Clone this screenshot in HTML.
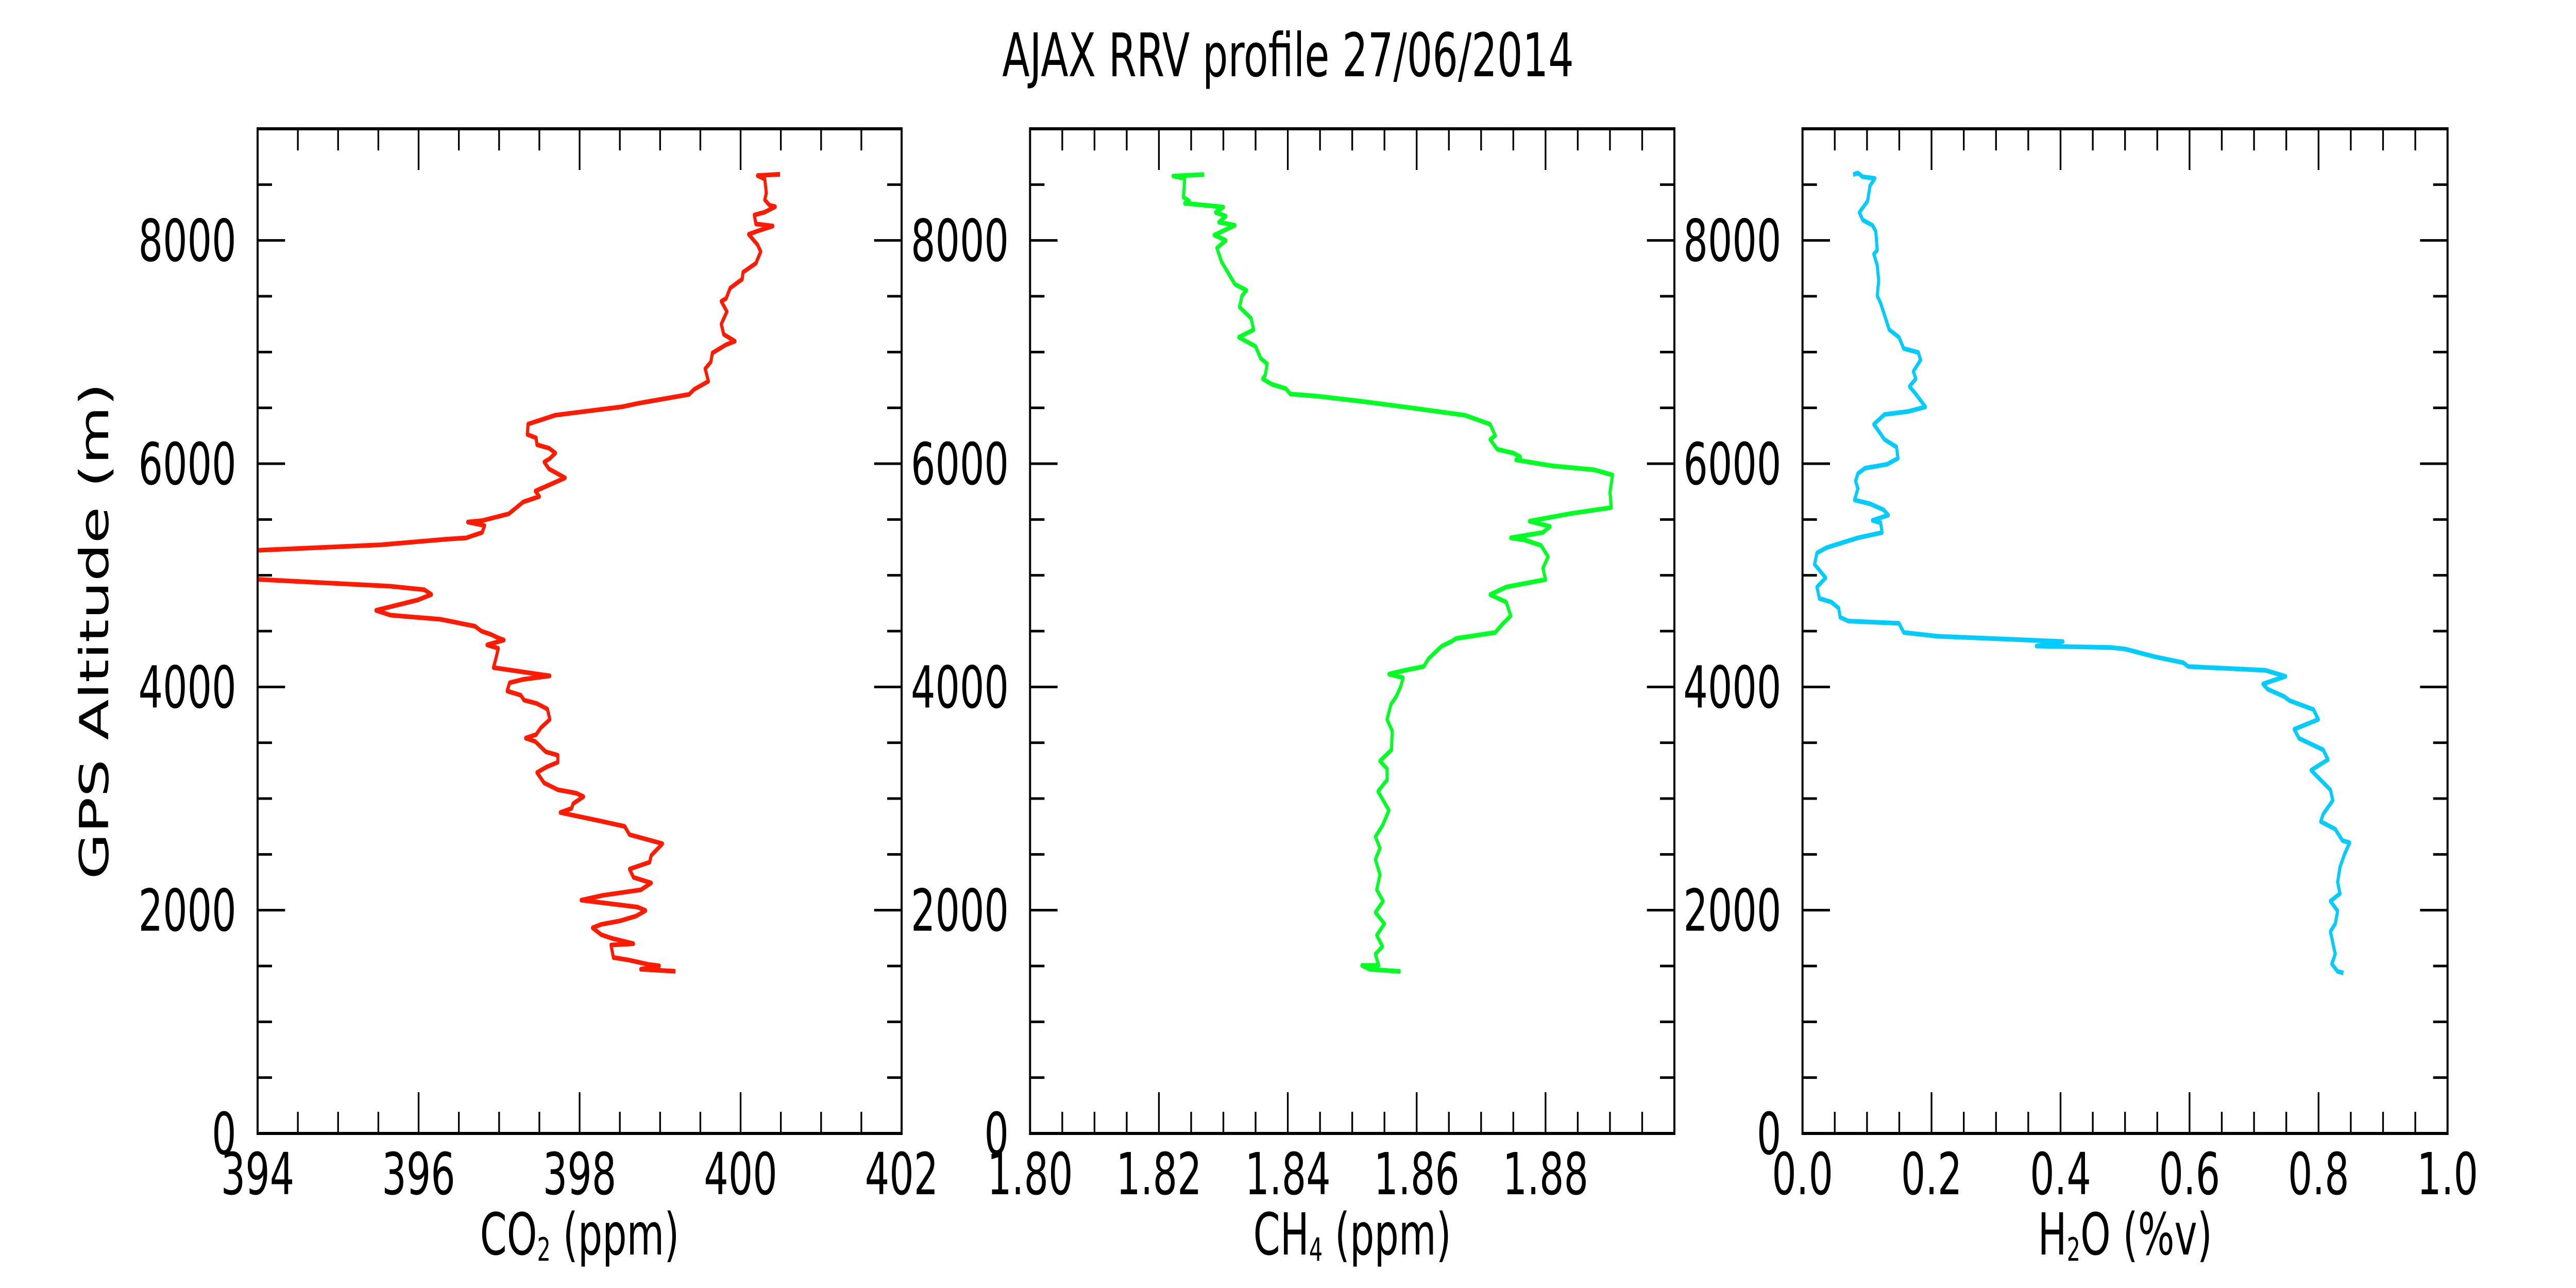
<!DOCTYPE html>
<html><head><meta charset="utf-8"><style>
html,body{margin:0;padding:0;background:#fff;width:100%;height:100%;overflow:hidden;}
svg{display:block;width:100vw;height:100vh;font-family:"DejaVu Sans","Liberation Sans",sans-serif;}
</style></head><body>
<svg id="fig" viewBox="0 0 7500 2500" preserveAspectRatio="none" xmlns="http://www.w3.org/2000/svg">
<rect width="7500" height="2500" fill="#fff"/>
<text x="3750" y="148" font-size="117" text-anchor="middle">AJAX RRV profile 27/06/2014</text>
<text transform="translate(315,1225) rotate(-90)" font-size="116" text-anchor="middle">GPS Altitude (m)</text>
</svg>
<script>
const co2Values=[400.49,400.21,400.30,400.32,400.30,400.36,400.43,400.30,400.17,400.19,400.40,400.22,400.10,400.21,400.25,400.19,400.03,400.02,399.87,399.82,399.76,399.83,399.76,399.79,399.93,399.82,399.65,399.63,399.56,399.60,399.42,399.36,398.73,398.53,397.70,397.36,397.35,397.46,397.47,397.62,397.70,397.63,397.56,397.62,397.82,397.59,397.45,397.50,397.30,397.12,396.79,396.61,396.82,396.79,396.59,396.33,395.53,394.00,393.2,394.00,395.65,396.07,396.16,395.99,395.47,395.65,396.27,396.70,396.78,396.90,396.99,397.06,396.85,396.99,396.96,396.93,397.63,397.30,397.13,397.10,397.27,397.31,397.47,397.60,397.63,397.52,397.46,397.33,397.45,397.58,397.73,397.73,397.59,397.47,397.56,397.73,397.96,398.05,397.92,397.90,397.76,398.25,398.56,398.62,399.03,398.89,398.87,398.62,398.67,398.89,398.76,398.29,398.02,398.72,398.82,398.70,398.50,398.27,398.16,398.27,398.39,398.67,398.39,398.42,398.62,398.85,398.99,398.76,399.19];
const co2Alt=[8593,8581,8550,8426,8364,8315,8302,8253,8228,8148,8129,8086,8055,7962,7900,7795,7715,7653,7573,7480,7455,7363,7251,7159,7097,7066,6992,6911,6850,6738,6664,6621,6541,6510,6435,6355,6262,6231,6170,6139,6095,6046,6015,5953,5873,5799,5755,5706,5657,5551,5490,5477,5446,5384,5335,5323,5273,5224,5100,4964,4902,4871,4828,4779,4686,4643,4606,4544,4500,4470,4439,4420,4377,4346,4253,4173,4099,4068,4037,3963,3926,3882,3851,3802,3709,3635,3573,3542,3511,3419,3388,3326,3283,3233,3140,3079,3048,3017,2955,2912,2875,2800,2751,2677,2596,2491,2430,2368,2294,2244,2182,2133,2090,2028,1997,1947,1904,1873,1842,1780,1750,1700,1688,1576,1552,1515,1502,1471,1453];
const ch4Values=[1.8270,1.8222,1.8240,1.8238,1.8247,1.8240,1.8300,1.8288,1.8304,1.8293,1.8318,1.8286,1.8304,1.8290,1.8297,1.8311,1.8318,1.8336,1.8329,1.8325,1.8343,1.8347,1.8324,1.8350,1.8358,1.8368,1.8365,1.8361,1.8375,1.8397,1.8404,1.8447,1.8518,1.8589,1.8675,1.8714,1.8722,1.8714,1.8725,1.8750,1.8761,1.8754,1.8811,1.8875,1.8904,1.8900,1.8902,1.8839,1.8775,1.8807,1.8796,1.8746,1.8768,1.8793,1.8804,1.8796,1.8800,1.8739,1.8714,1.8739,1.8746,1.8732,1.8722,1.8661,1.8654,1.8639,1.8618,1.8611,1.8582,1.8557,1.8579,1.8575,1.8568,1.8560,1.8554,1.8562,1.8561,1.8543,1.8554,1.8554,1.8540,1.8557,1.8547,1.8536,1.8543,1.8536,1.8543,1.8538,1.8548,1.8536,1.8550,1.8538,1.8547,1.8536,1.8541,1.8515,1.8527,1.8575];
const ch4Alt=[8590,8577,8556,8387,8353,8333,8299,8251,8217,8163,8136,8048,8000,7933,7811,7675,7607,7553,7505,7404,7302,7200,7133,7051,6943,6895,6794,6760,6712,6672,6624,6604,6556,6502,6434,6353,6251,6217,6129,6095,6061,6034,5980,5946,5899,5743,5607,5553,5485,5438,5384,5336,5316,5268,5166,5064,4962,4895,4827,4760,4637,4556,4488,4434,4407,4366,4251,4183,4149,4115,4082,4000,3912,3844,3709,3607,3437,3336,3268,3166,3065,2895,2759,2658,2556,2454,2319,2183,2081,1980,1878,1776,1675,1607,1505,1505,1471,1451];
const h2oValues=[0.0785,0.086,0.0934,0.1121,0.1046,0.1009,0.0882,0.0934,0.1084,0.1136,0.1158,0.1106,0.1158,0.1181,0.1158,0.1211,0.1345,0.1495,0.1570,0.1794,0.1831,0.1719,0.1756,0.1659,0.1756,0.1906,0.1644,0.1271,0.1106,0.1271,0.1457,0.1480,0.1308,0.0972,0.0859,0.0822,0.0859,0.0807,0.1046,0.1256,0.1330,0.1084,0.1211,0.1233,0.0859,0.0374,0.0224,0.0187,0.0359,0.0224,0.0262,0.0448,0.0561,0.0583,0.0710,0.1495,0.1570,0.2093,0.2915,0.4036,0.3625,0.4783,0.5007,0.5456,0.5904,0.5979,0.7175,0.7489,0.7138,0.7212,0.7474,0.7549,0.7922,0.7997,0.7623,0.7698,0.8072,0.8147,0.7885,0.8034,0.8184,0.8221,0.8072,0.8034,0.8259,0.8371,0.8483,0.8408,0.8333,0.8296,0.8333,0.8184,0.8296,0.8259,0.8184,0.8221,0.8259,0.8206,0.8296,0.8386];
const h2oAlt=[8590,8604,8570,8556,8489,8353,8251,8183,8136,8082,7912,7878,7777,7641,7505,7438,7200,7133,7031,6997,6929,6827,6760,6692,6624,6509,6468,6441,6353,6217,6149,6048,5994,5960,5912,5844,5777,5675,5641,5587,5539,5492,5471,5383,5336,5248,5200,5099,4977,4895,4793,4760,4705,4624,4590,4570,4488,4454,4434,4407,4366,4353,4339,4271,4217,4183,4149,4095,4027,3980,3912,3878,3797,3709,3621,3539,3437,3349,3254,3166,3078,2983,2861,2794,2726,2624,2604,2509,2387,2251,2149,2081,1993,1878,1810,1709,1607,1519,1451,1437];
const altTicks=[0,2000,4000,6000,8000];
const altTickLabels=["0","2000","4000","6000","8000"];
const co2Ticks=[394,396,398,400,402];
const co2TickLabels=["394","396","398","400","402"];
const ch4Ticks=[1.80,1.82,1.84,1.86,1.88];
const ch4TickLabels=["1.80","1.82","1.84","1.86","1.88"];
const h2oTicks=[0,0.2,0.4,0.6,0.8,1.0];
const h2oTickLabels=["0.0","0.2","0.4","0.6","0.8","1.0"];

const NS="http://www.w3.org/2000/svg";
const svg=document.getElementById('fig');
const TOP=250,BOT=2200,YMAX=9000;
function yScale(a){return BOT-(a/YMAX)*(BOT-TOP);}
function mk(tag,attrs,parent){const e=document.createElementNS(NS,tag);for(const k in attrs)e.setAttribute(k,attrs[k]);(parent||svg).appendChild(e);return e;}

const panels=[
 {key:'co2',left:750,right:2625,xmin:394,xmax:402,minor:0.5,ticks:co2Ticks,labels:co2TickLabels,vals:co2Values,alt:co2Alt,color:'#ff1a00',lab:['CO','2',' (ppm)']},
 {key:'ch4',left:2999,right:4875,xmin:1.80,xmax:1.90,minor:0.005,ticks:ch4Ticks,labels:ch4TickLabels,vals:ch4Values,alt:ch4Alt,color:'#00ff22',lab:['CH','4',' (ppm)']},
 {key:'h2o',left:5248,right:7126,xmin:0,xmax:1,minor:0.05,ticks:h2oTicks,labels:h2oTickLabels,vals:h2oValues,alt:h2oAlt,color:'#00ccff',lab:['H','2','O (%v)']}
];
panels.forEach(p=>{
 const g=mk('g',{});
 
 
 const xs=v=>p.left+(v-p.xmin)/(p.xmax-p.xmin)*(p.right-p.left);
 const cp=mk('clipPath',{id:'clip-'+p.key},g);
 mk('rect',{x:p.left,y:TOP,width:p.right-p.left,height:BOT-TOP},cp);
 let d='';
 for(let i=0;i<p.vals.length;i++){d+=(i?'L':'M')+xs(p.vals[i]).toFixed(1)+','+yScale(p.alt[i]).toFixed(1);}
 const line=mk('path',{d:d,fill:'none',stroke:p.color,'stroke-width':9,'stroke-linejoin':'round','clip-path':'url(#clip-'+p.key+')'},g);
 
 
 const nMinor=Math.round((p.xmax-p.xmin)/p.minor);
 for(let i=0;i<=nMinor;i++){
  const v=p.xmin+i*p.minor;const major=(i%4===0);const L=major?80:42;const x=xs(v);
  mk('line',{x1:x,x2:x,y1:BOT,y2:BOT-L,stroke:'#000','stroke-width':5},g);
  mk('line',{x1:x,x2:x,y1:TOP,y2:TOP+L,stroke:'#000','stroke-width':5},g);
 }
 for(let a=0;a<=YMAX;a+=500){
  const major=(a%2000===0);const L=major?80:42;const y=yScale(a);
  mk('line',{x1:p.left,x2:p.left+L,y1:y,y2:y,stroke:'#000','stroke-width':5},g);
  mk('line',{x1:p.right,x2:p.right-L,y1:y,y2:y,stroke:'#000','stroke-width':5},g);
 }
 const frame=mk('rect',{x:p.left,y:TOP,width:p.right-p.left,height:BOT-TOP,fill:'none',stroke:'#000','stroke-width':6},g);
 
 
 p.ticks.forEach((v,i)=>{
  const t=mk('text',{x:xs(v),y:2318,'font-size':112,'text-anchor':'middle'},g);
  
  
  t.textContent=p.labels[i];
 });
 altTicks.forEach((a,i)=>{
  const t=mk('text',{x:p.left-62,y:yScale(a)+40,'font-size':112,'text-anchor':'end'},g);
  
  
  t.textContent=altTickLabels[i];
 });
 const xl=mk('text',{x:(p.left+p.right)/2,y:2435,'font-size':112,'text-anchor':'middle'},g);
 
 
 const s1=mk('tspan',{},xl);s1.textContent=p.lab[0];
 const s2=mk('tspan',{'font-size':62,dy:12},xl);s2.textContent=p.lab[1];
 const s3=mk('tspan',{dy:-12},xl);s3.textContent=p.lab[2];
});
</script>
</body></html>
